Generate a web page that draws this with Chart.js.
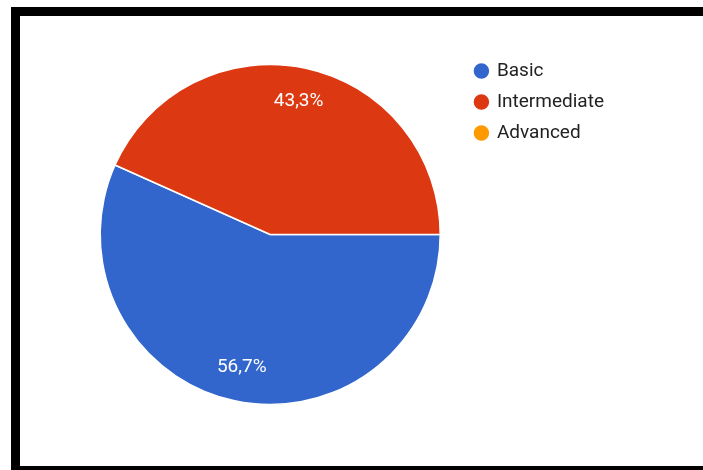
<!DOCTYPE html>
<html>
<head>
<meta charset="utf-8">
<title>Level distribution</title>
<script src="https://cdn.jsdelivr.net/npm/chart.js@4.4.1/dist/chart.umd.min.js"></script>
<style>
    html, body { margin: 0; padding: 0; background: #fff; }
    .frame { position: relative; width: 703px; height: 470px; overflow: hidden; }
    #levelChart { position: absolute; left: 0; top: 0; }
    .bar { position: absolute; background: #000; }
    .bar-top { left: 11px; top: 7px; width: 692px; height: 9px; }
    .bar-left { left: 11px; top: 7px; width: 9px; height: 463px; }
    .bar-bottom { left: 11px; top: 466px; width: 692px; height: 4px; }
</style>
</head>
<body>
<div class="frame">
    <canvas id="levelChart" width="703" height="470"></canvas>
    <div class="bar bar-top"></div>
    <div class="bar bar-left"></div>
    <div class="bar bar-bottom"></div>
</div>
<script>
// --- Chart data ---
const levels = ['Basic', 'Intermediate', 'Advanced'];
const shares = [56.7, 43.3, 0];
const sliceColors = ['#3366CC', '#DC3912', '#FF9900'];

// percentage label, e.g. 56,7%
function formatShare(value) {
    return value.toFixed(1).replace('.', ',') + '%';
}

// --- Slice labels drawn inside each arc ---
const sliceLabels = {
    id: 'sliceLabels',
    afterDatasetsDraw(chart) {
        const ctx = chart.ctx;
        const meta = chart.getDatasetMeta(0);
        ctx.save();
        ctx.font = '19px Roboto';
        ctx.fillStyle = '#ffffff';
        ctx.textAlign = 'center';
        ctx.textBaseline = 'middle';
        meta.data.forEach((arc, i) => {
            const value = chart.data.datasets[0].data[i];
            if (!value) return;
            const { x, y, startAngle, endAngle, outerRadius } = arc.getProps(['x', 'y', 'startAngle', 'endAngle', 'outerRadius'], true);
            const mid = (startAngle + endAngle) / 2;
            const r = outerRadius * 0.8;
            ctx.fillText(formatShare(value), x + Math.cos(mid) * r, y + Math.sin(mid) * r);
        });
        ctx.restore();
    }
};

document.addEventListener('DOMContentLoaded', () => {
    const ctx = document.getElementById('levelChart').getContext('2d');
    new Chart(ctx, {
        type: 'pie',
        data: {
            labels: levels,
            datasets: [{
                data: shares,
                backgroundColor: sliceColors,
                borderColor: '#ffffff',
                borderWidth: 1.5,
                radius: 170
            }]
        },
        options: {
            responsive: false,
            animation: false,
            rotation: 90,
            events: [],
            layout: { padding: { left: 77, right: 89, top: 49.5, bottom: 50.5 } },
            plugins: {
                tooltip: { enabled: false },
                legend: {
                    position: 'right',
                    align: 'start',
                    labels: {
                        usePointStyle: true,
                        pointStyle: 'circle',
                        boxWidth: 12,
                        boxHeight: 12,
                        padding: 12,
                        color: '#222222',
                        font: { family: 'Roboto', size: 19 }
                    }
                }
            }
        },
        plugins: [sliceLabels]
    });
});
</script>
</body>
</html>
